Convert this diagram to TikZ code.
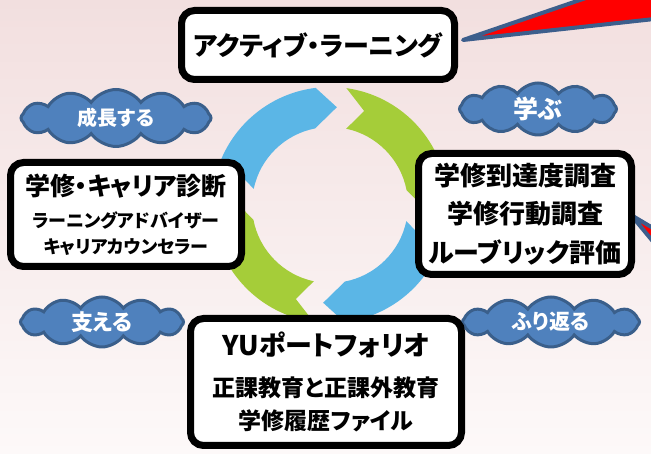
\documentclass[tikz,border=0pt]{standalone}
\usepackage{fontspec}
\setmainfont{Noto Sans CJK JP}[RawFeature=+palt]
\usetikzlibrary{shapes.symbols}

\definecolor{bgtop}{RGB}{242,223,223}
\definecolor{bgbottom}{RGB}{253,249,249}
\definecolor{ringblue}{RGB}{91,182,230}
\definecolor{ringgreen}{RGB}{165,205,57}
\definecolor{cloudfill}{RGB}{79,129,189}
\definecolor{cloudedge}{RGB}{58,95,139}
\definecolor{calloutedge}{RGB}{60,94,140}

\newcommand{\ringouter}{118}
\newcommand{\ringinner}{78}
\newcommand{\ringsegment}[2]{%
  \begin{scope}[shift={(ring)},rotate=#1]
    \fill[#2] (172:\ringouter) arc[start angle=172, end angle=97, radius=\ringouter]
      -- (86:98) -- (101:\ringinner)
      arc[start angle=101, end angle=168, radius=\ringinner] -- (160:100) -- cycle;
  \end{scope}
}
\newcommand{\headsize}{\fontsize{26}{38.5}\selectfont}
\newcommand{\midsize}{\fontsize{23}{33}\selectfont}
\newcommand{\subsize}{\fontsize{18}{26}\selectfont}

\tikzset{
  panel/.style={draw, line width=7pt, rounded corners=13pt, fill=white,
    align=center, inner sep=0pt},
  puff/.style={cloud, cloud puffs=12, cloud puff arc=110, cloud ignores aspect,
    fill=cloudfill, draw=cloudedge, line width=3pt, text=white,
    inner sep=0pt, font=\bfseries},
  callout/.style={fill=red, draw=calloutedge, line width=4pt, line join=round}
}

\begin{document}
\begin{tikzpicture}[x=1pt,y=1pt]

\useasboundingbox (0,0) rectangle (651,454);
\shade[top color=bgtop, bottom color=bgbottom] (0,0) rectangle (651,454);

% callouts running off the right edge
\coordinate (tipA) at (463,414);
\coordinate (tipB) at (631,239);
\begin{scope}
  \clip (0,0) rectangle (651,454);
  \filldraw[callout] (tipA) -- (700,495) -- (700,440) -- cycle;
  \filldraw[callout] (tipB) -- (700,198) -- (700,156) -- cycle;
\end{scope}

% cycle of arrows
\coordinate (ring) at (330,249);
\foreach \ang/\col in {0/ringblue, -90/ringgreen, -180/ringblue, -270/ringgreen}
  \ringsegment{\ang}{\col};

% clouds
\node[puff, minimum width=190pt, minimum height=57pt] (grow) at (116,336)
  {\fontsize{20}{20}\selectfont 成長する};
\node[puff, minimum width=157pt, minimum height=52pt] (learn) at (538,345)
  {\fontsize{25}{25}\selectfont 学ぶ};
\node[puff, minimum width=163pt, minimum height=50pt] (support) at (102,132)
  {\fontsize{22}{22}\selectfont 支える};
\node[puff, minimum width=177pt, minimum height=50pt] (reflect) at (551,132)
  {\fontsize{21}{21}\selectfont ふり返る};

% boxes
\node[panel, font=\bfseries\headsize, minimum width=273pt, minimum height=69pt]
  (active) at (318,409) {アクティブ・ラーニング};
\node[panel, font=\bfseries\subsize, minimum width=231pt, minimum height=104pt]
  (diag) at (126,239.5)
  {\fontsize{25}{25}\selectfont 学修・キャリア診断\\[6pt]
   ラーニングアドバイザー\\ キャリアカウンセラー};
\node[panel, font=\bfseries\headsize, minimum width=213pt, minimum height=121pt]
  (survey) at (525,240) {学修到達度調査\\ 学修行動調査\\ ルーブリック評価};
\node[panel, font=\bfseries\midsize, minimum width=271pt, minimum height=127pt]
  (folio) at (326,72)
  {\fontsize{27}{27}\selectfont YUポートフォリオ\\[8pt]
   正課教育と正課外教育\\ 学修履歴ファイル};

\end{tikzpicture}
\end{document}
